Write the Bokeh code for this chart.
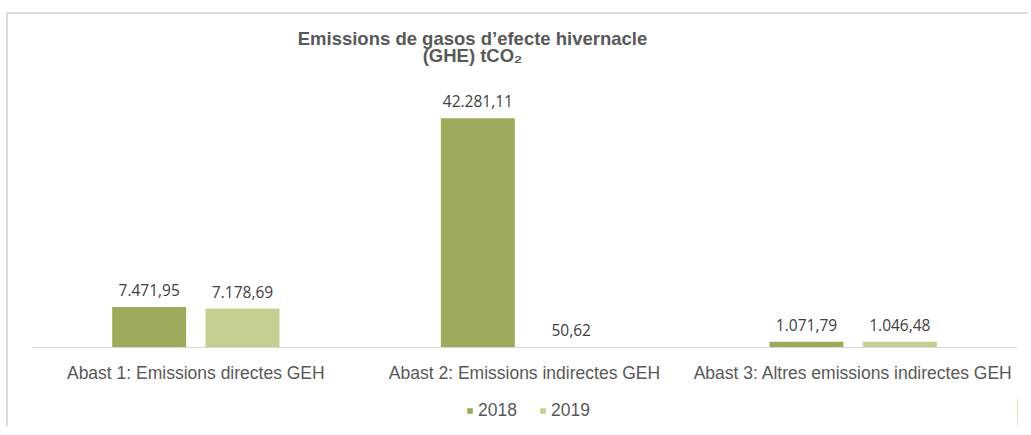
from bokeh.plotting import figure
from bokeh.layouts import column
from bokeh.models import (ColumnDataSource, FactorRange, Range1d, Label, Legend,
                          LegendItem)
from bokeh.transform import dodge
from bokeh.core.properties import value
from bokeh.embed import file_html
from bokeh.resources import INLINE

categories = ["Abast 1: Emissions directes GEH",
              "Abast 2: Emissions indirectes GEH",
              "Abast 3: Altres emissions indirectes GEH"]
years = ["2018", "2019"]
values_2018 = [7471.95, 42281.11, 1071.79]
values_2019 = [7178.69, 50.62, 1046.48]
title_lines = ["Emissions de gasos d\u2019efecte hivernacle", "(GHE) tCO\u2082"]


def fmt(v):
    s = f"{v:,.2f}"
    return s.replace(",", "X").replace(".", ",").replace("X", ".")


src = ColumnDataSource(dict(
    cat=categories,
    v2018=values_2018,
    v2019=values_2019,
    l2018=[fmt(v) for v in values_2018],
    l2019=[fmt(v) for v in values_2019],
))

c2018 = "#9bab5b"
c2019 = "#c5cf91"
txt = "#595959"

# layout (canvas pixels)
W, H = 1020, 384
frame_top, frame_bottom = 6, 334
px = 45000 / 244.0          # data units per pixel
y_start = -1 * px
y_end = (frame_bottom - 1 - frame_top) * px

p = figure(width=W, height=H,
           x_range=FactorRange(*categories, range_padding=0),
           y_range=Range1d(y_start, y_end),
           min_border_left=23, min_border_right=11,
           min_border_top=frame_top, min_border_bottom=H - frame_bottom,
           output_backend="svg", toolbar_location=None)

p.outline_line_color = None
p.xgrid.grid_line_color = None
p.ygrid.grid_line_color = None
p.yaxis.visible = False
p.background_fill_color = "white"
p.border_fill_color = "white"

off = 0.142
bw = 0.225
r1 = p.vbar(x=dodge("cat", -off, range=p.x_range), top="v2018", width=bw,
            source=src, fill_color=c2018, line_color=None)
r2 = p.vbar(x=dodge("cat", off, range=p.x_range), top="v2019", width=bw,
            source=src, fill_color=c2019, line_color=None)

for field, lab, o in (("v2018", "l2018", -off), ("v2019", "l2019", off)):
    p.text(x=dodge("cat", o, range=p.x_range), y=field, text=lab, source=src,
           text_align="center", text_baseline="bottom", y_offset=-11,
           text_font=value("Open Sans"), text_font_size="15.5px",
           text_color="#404040")

# category axis baseline (clipped to the plot frame)
p.hspan(y=[0], line_color="#d9d9d9", line_width=1.2)

ax = p.xaxis[0]
ax.axis_line_color = None
ax.major_tick_line_color = None
ax.minor_tick_line_color = None
ax.major_label_text_font = "Liberation Sans"
ax.major_label_text_font_size = "17.5px"
ax.major_label_text_color = txt
ax.major_label_standoff = 8

for line, yb in zip(title_lines, (310, 293)):
    p.add_layout(Label(x=441, y=yb, x_units="screen", y_units="screen",
                       text=line, text_align="center", text_baseline="alphabetic",
                       text_font="Liberation Sans", text_font_style="bold",
                       text_font_size="18.5px", text_color=txt))

# legend strip
H2 = 28
pl = figure(width=W, height=H2, x_range=Range1d(0, 1), y_range=Range1d(0, 1),
            min_border=0, output_backend="svg", toolbar_location=None)
pl.xaxis.visible = False
pl.yaxis.visible = False
pl.xgrid.grid_line_color = None
pl.ygrid.grid_line_color = None
pl.outline_line_color = None
pl.border_fill_color = "white"
d1 = pl.vbar(x=[5], top=[5], width=0.1, fill_color=c2018, line_color=None)
d2 = pl.vbar(x=[5], top=[5], width=0.1, fill_color=c2019, line_color=None)
legend = Legend(items=[LegendItem(label=years[0], renderers=[d1]),
                       LegendItem(label=years[1], renderers=[d2])],
                orientation="horizontal", location=(435, 5),
                glyph_width=7, glyph_height=7, label_standoff=5, spacing=22,
                padding=0, margin=0, border_line_color=None,
                background_fill_alpha=0, label_text_font="Liberation Sans",
                label_text_font_size="17.5px", label_text_color=txt,
                label_height=17)
pl.add_layout(legend, "center")

layout = column(p, pl, spacing=0)
layout.styles = {"margin-left": "6px", "margin-top": "12px",
                 "border-left": "2px solid #dcdcdc", "border-top": "2px solid #dcdcdc"}

open("out.html", "w").write(file_html(layout, INLINE))
